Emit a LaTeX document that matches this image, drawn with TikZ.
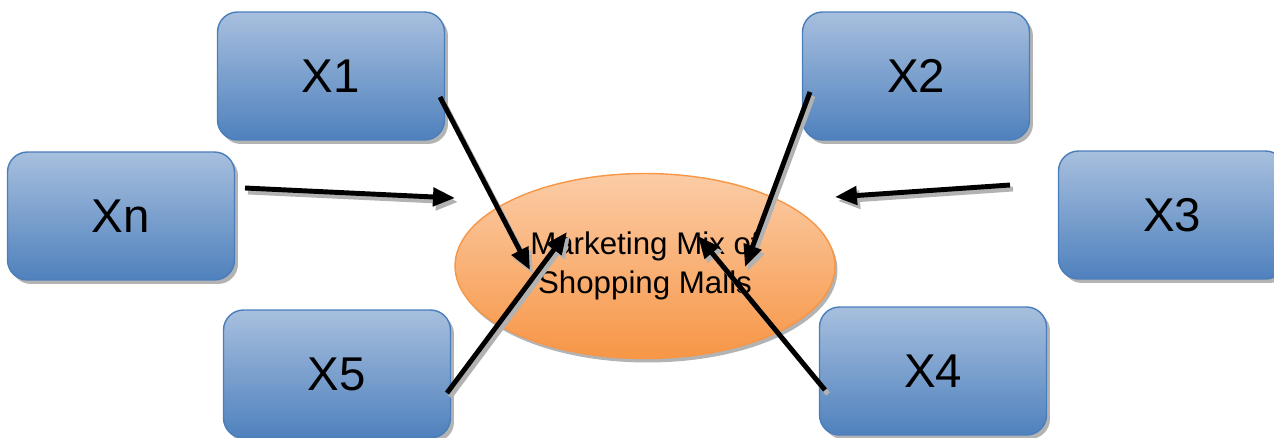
\documentclass[tikz,border=0pt]{standalone}
\usepackage{fontspec}
\setmainfont{Liberation Sans}
\usepackage{tikz}
\usetikzlibrary{shapes,arrows.meta,positioning,shadows}
\definecolor{boxtop}{RGB}{167,191,222}
\definecolor{boxbot}{RGB}{79,129,189}
\definecolor{boxline}{RGB}{74,126,187}
\definecolor{mixtop}{RGB}{251,204,166}
\definecolor{mixbot}{RGB}{247,150,70}

\tikzset{
  factor/.style={rectangle, rounded corners=0.4cm, draw=boxline, line width=0.8pt,
    top color=boxtop, bottom color=boxbot, minimum width=4.54cm, minimum height=2.56cm,
    font=\fontsize{27}{30}\selectfont,
    drop shadow={shadow xshift=0.07cm, shadow yshift=-0.08cm, fill=black!50, opacity=0.6}},
  mix/.style={ellipse, draw=mixbot, line width=0.8pt, top color=mixtop, bottom color=mixbot,
    minimum width=7.6cm, minimum height=3.7cm, align=center,
    font=\fontsize{17.8}{22.5}\selectfont,
    drop shadow={shadow xshift=0.05cm, shadow yshift=-0.08cm, fill=black!50, opacity=0.6}},
  link/.style={line width=2.8pt, -{Triangle[length=0.44cm,width=0.36cm]}},
  linkshadow/.style={link, draw=black!30, fill=black!30}
}

\begin{document}
\begin{tikzpicture}[x=0.02cm, y=-0.02cm]
\useasboundingbox (0,0) rectangle (1274,437);

\node [mix] (mix) at (645,266) {Marketing Mix of\\Shopping Malls};

\node [factor] (x1) at (331,76) {X1};
\node [factor] (x2) at (916,76) {X2};
\node [factor] (xn) at (121,216) {Xn};
\node [factor] (x3) at (1172,215) {X3};
\node [factor] (x5) at (337,374) {X5};
\node [factor] (x4) at (933,371) {X4};

% start and end points of the arrows
\coordinate (x1s) at (440,97);  \coordinate (x1e) at (530,270);
\coordinate (x2s) at (810,92);  \coordinate (x2e) at (745,267);
\coordinate (xns) at (245,188); \coordinate (xne) at (455,198);
\coordinate (x3s) at (1010,185); \coordinate (x3e) at (835,197);
\coordinate (x5s) at (447,393); \coordinate (x5e) at (567,232);
\coordinate (x4s) at (825,390); \coordinate (x4e) at (698,236);

\foreach \a/\b in {x1s/x1e, x2s/x2e, xns/xne, x3s/x3e, x5s/x5e, x4s/x4e} {
  \draw [linkshadow] ([shift={(3,4)}]\a) -- ([shift={(3,4)}]\b);
  \draw [link] (\a) -- (\b);
}

\end{tikzpicture}
\end{document}
